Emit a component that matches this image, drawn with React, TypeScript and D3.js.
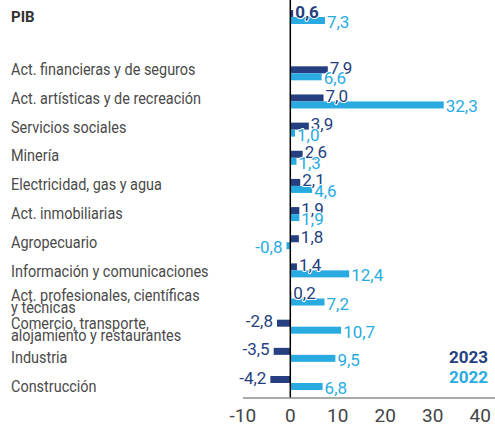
import React from 'react';
import * as d3 from 'd3';

// sectors, top to bottom ("" is the empty row under PIB)
const categories: string[] = [
  'PIB',
  '',
  'Act. financieras y de seguros',
  'Act. artísticas y de recreación',
  'Servicios sociales',
  'Minería',
  'Electricidad, gas y agua',
  'Act. inmobiliarias',
  'Agropecuario',
  'Información y comunicaciones',
  'Act. profesionales, científicas\ny técnicas',
  'Comercio, transporte,\nalojamiento y restaurantes',
  'Industria',
  'Construcción',
];

const values2023: (number | null)[] = [0.6, null, 7.9, 7.0, 3.9, 2.6, 2.1, 1.9, 1.8, 1.4, 0.2, -2.8, -3.5, -4.2];
const values2022: (number | null)[] = [7.3, null, 6.6, 32.3, 1.0, 1.3, 4.6, 1.9, -0.8, 12.4, 7.2, 10.7, 9.5, 6.8];

const seriesNames = ['2023', '2022'];
const xTicks = [-10, 0, 10, 20, 30, 40];

const WIDTH = 495;
const HEIGHT = 427;
const DARK = '#253f80';
const LIGHT = '#29abe2';
const FONT = 'Roboto, sans-serif';
const LABEL_SQUEEZE = 0.85; // reference uses a condensed face

const fmt = (v: number) => v.toFixed(1).replace('.', ',');

const App: React.FC = () => {
  const x = d3.scaleLinear().domain([-10, 40]).range([242.8, 480.3]);
  const y = d3
    .scalePoint<number>()
    .domain(categories.map((_, i) => i))
    .range([17, 383]);
  // sector names sit on a slightly wider pitch than the bars
  const labelY = d3.scaleLinear().domain([2, categories.length - 1]).range([69, 386]);

  const barH = 7;
  const x0 = x(0);
  const axisY = 398;

  const valueLabel = (v: number, cy: number, color: string, key: string, bold = false) => {
    const end = x(v);
    const neg = v < 0;
    return (
      <text
        key={key}
        x={neg ? end - 4 : end + 2}
        y={cy}
        textAnchor={neg ? 'end' : 'start'}
        fill={color}
        fontSize={17}
        fontWeight={bold ? 700 : 400}
        fontFamily={FONT}
        stroke="#fff"
        strokeWidth={2}
        paintOrder="stroke"
        strokeLinejoin="round"
      >
        {fmt(v)}
      </text>
    );
  };

  return (
    <svg
      width={WIDTH}
      height={HEIGHT}
      style={{ position: 'absolute', left: 0, top: 0, background: '#fff' }}
    >
      {/* category labels */}
      <text x={11} y={(y(0) ?? 0) + 5} fontSize={15} fontWeight={700} fill="#333" fontFamily={FONT}>
        {categories[0]}
      </text>
      <g transform={`translate(11,0) scale(${LABEL_SQUEEZE},1)`}>
        {categories.map((c, i) => {
          if (i < 2) return null;
          const cy = labelY(i);
          const lines = c.split('\n');
          if (lines.length === 1) {
            return (
              <text key={'c' + i} x={0} y={cy + 6} fontSize={17} fill="#4a4a4a" fontFamily={FONT}>
                {c}
              </text>
            );
          }
          return (
            <text key={'c' + i} x={0} y={cy + 1} fontSize={17} fill="#4a4a4a" fontFamily={FONT}>
              {lines.map((l, j) => (
                <tspan key={j} x={0} dy={j === 0 ? 0 : 12}>
                  {l}
                </tspan>
              ))}
            </text>
          );
        })}
      </g>

      {/* bars */}
      {values2023.map((v, i) =>
        v === null ? null : (
          <rect
            key={'a' + i}
            x={Math.min(x(v), x0)}
            y={(y(i) ?? 0) - barH}
            width={Math.abs(x(v) - x0)}
            height={barH}
            fill={DARK}
          />
        )
      )}
      {values2022.map((v, i) =>
        v === null ? null : (
          <rect
            key={'b' + i}
            x={Math.min(x(v), x0)}
            y={y(i) ?? 0}
            width={Math.abs(x(v) - x0)}
            height={barH}
            fill={LIGHT}
          />
        )
      )}

      {/* value labels (the PIB 2023 figure is set in bold) */}
      {values2023.map((v, i) =>
        v === null ? null : valueLabel(v, (y(i) ?? 0) + 0.5, DARK, 'la' + i, i === 0)
      )}
      {values2022.map((v, i) => (v === null ? null : valueLabel(v, (y(i) ?? 0) + 11, LIGHT, 'lb' + i)))}

      {/* zero line */}
      <line x1={x0} x2={x0} y1={0} y2={axisY} stroke="#000" strokeWidth={1.5} />

      {/* x axis */}
      <line x1={243} x2={WIDTH} y1={axisY} y2={axisY} stroke="#8c8c8c" strokeWidth={1.5} />
      {xTicks.map((t) => (
        <text
          key={'t' + t}
          x={x(t)}
          y={422}
          textAnchor="middle"
          fontSize={19}
          fill="#444"
          fontFamily={FONT}
        >
          {t}
        </text>
      ))}

      {/* legend */}
      {seriesNames.map((s, i) => (
        <text
          key={s}
          x={488}
          y={363 + i * 20}
          textAnchor="end"
          fontSize={17}
          fontWeight={700}
          fill={i === 0 ? DARK : LIGHT}
          fontFamily={FONT}
        >
          {s}
        </text>
      ))}
    </svg>
  );
};

export default App;
